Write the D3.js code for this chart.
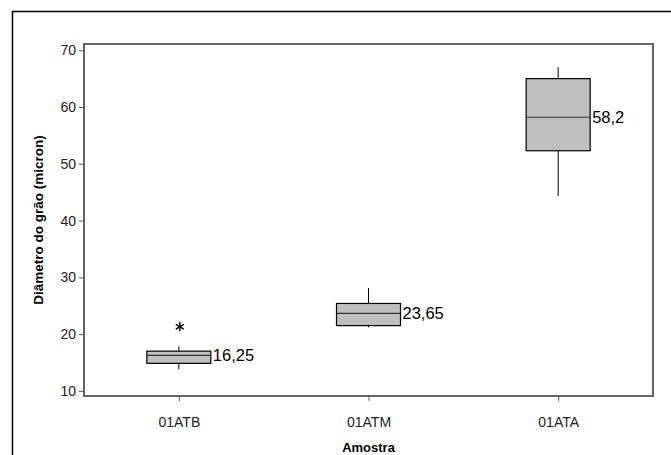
<!DOCTYPE html>
<meta charset="utf-8">
<head>
    <style>
        body {margin: 0; background: #fff;}
        text {font-family: "Liberation Sans", Arial, sans-serif;}
        .tick text {fill: #222; font-size: 14px;}
        .axis path, .axis line {stroke: #555;}
    </style>
    <script src="https://d3js.org/d3.v7.min.js"></script>
</head>
<body>
<script>

    var categories = ["01ATB", "01ATM", "01ATA"],
        whiskerLow = [13.8, 21.2, 44.3],
        q1 = [14.85, 21.5, 52.3],
        median = [16.25, 23.65, 58.2],
        q3 = [17.0, 25.4, 65.0],
        whiskerHigh = [17.85, 28.1, 67.0],
        outliers = [[21.3], [], []],
        medianLabels = ["16,25", "23,65", "58,2"],
        yTicks = [10, 20, 30, 40, 50, 60, 70];

    var margin = {top: 44, right: 18, bottom: 59, left: 84},
        width = 671 - margin.left - margin.right,
        height = 455 - margin.top - margin.bottom;

    var boxWidth = 64;

    var svg = d3.select("body").append("svg")
        .attr("width", 671)
        .attr("height", 455)

    // outer frame, runs off the right and bottom edge
    svg.append("rect")
        .attr("x", 12.5)
        .attr("y", 11.5)
        .attr("width", 800)
        .attr("height", 800)
        .attr("fill", "none")
        .attr("stroke", "#000")
        .attr("stroke-width", 1.5)

    var g = svg.append("g")
        .attr("transform", "translate(" + margin.left + "," + margin.top + ")")

    var x = d3.scalePoint()
        .domain(categories)
        .range([0, width])
        .padding(0.5);

    var y = d3.scaleLinear()
        .domain([9.1, 71.1])
        .range([height, 0]);

    g.append("rect")
        .attr("width", width)
        .attr("height", height)
        .attr("fill", "none")
        .attr("stroke", "#555")
        .attr("stroke-width", 1.8)

    g.append("g")
        .attr("class", "axis")
        .attr("transform", "translate(0," + height + ")")
        .call(d3.axisBottom(x).tickSize(5).tickPadding(16))
        .call(function(a) {a.select(".domain").remove()})

    g.append("g")
        .attr("class", "axis")
        .call(d3.axisLeft(y).tickValues(yTicks).tickSize(5).tickPadding(3))
        .call(function(a) {a.select(".domain").remove()})

    var boxes = g.selectAll(".box")
        .data(categories)
      .enter().append("g")
        .attr("class", "box")
        .attr("transform", function(d) {return "translate(" + x(d) + ",0)"})

    boxes.append("line")
        .attr("y1", function(d, i) {return y(whiskerLow[i])})
        .attr("y2", function(d, i) {return y(whiskerHigh[i])})
        .attr("stroke", "#000")

    boxes.append("rect")
        .attr("x", -boxWidth/2)
        .attr("width", boxWidth)
        .attr("y", function(d, i) {return y(q3[i])})
        .attr("height", function(d, i) {return y(q1[i]) - y(q3[i])})
        .attr("fill", "#c0c0c0")
        .attr("stroke", "#000")
        .attr("stroke-width", 1.2)

    boxes.append("line")
        .attr("x1", -boxWidth/2)
        .attr("x2", boxWidth/2)
        .attr("y1", function(d, i) {return y(median[i])})
        .attr("y2", function(d, i) {return y(median[i])})
        .attr("stroke", "#333")
        .attr("stroke-width", 1.2)

    boxes.append("text")
        .attr("x", boxWidth/2 + 2)
        .attr("y", function(d, i) {return y(median[i]) + 6})
        .attr("font-size", "16.5px")
        .attr("fill", "#000")
        .text(function(d, i) {return medianLabels[i]})

    boxes.selectAll(".outlier")
        .data(function(d, i) {return outliers[i]})
      .enter().append("path")
        .attr("class", "outlier")
        .attr("transform", function(v) {return "translate(1," + y(v) + ")"})
        .attr("d", d3.symbol(d3.symbolAsterisk, 60))
        .attr("fill", "none")
        .attr("stroke", "#000")
        .attr("stroke-width", 1.4)

    svg.append("text")
        .attr("transform", "translate(43," + (margin.top + height/2) + ") rotate(-90)")
        .attr("text-anchor", "middle")
        .attr("font-size", "13.5px")
        .attr("font-weight", "bold")
        .text("Diâmetro do grão (micron)")

    svg.append("text")
        .attr("x", margin.left + width/2)
        .attr("y", 452)
        .attr("text-anchor", "middle")
        .attr("font-size", "13px")
        .attr("font-weight", "bold")
        .text("Amostra")

</script>
</body>
